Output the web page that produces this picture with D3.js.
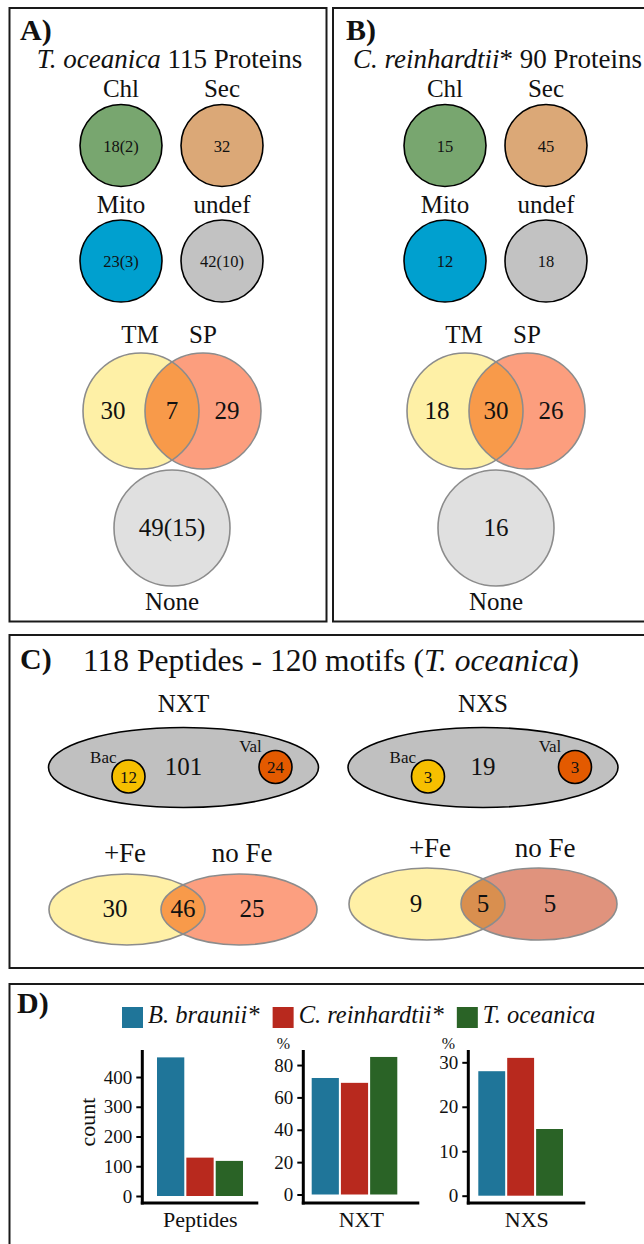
<!DOCTYPE html>
<html>
<head>
<meta charset="utf-8">
<script src="https://cdn.jsdelivr.net/npm/d3@7"></script>
<style>
  body { margin: 0; background: #fff; }
  svg { display: block; }
  text { font-family: "Liberation Serif", "Times New Roman", serif; fill: #111; }
</style>
</head>
<body>
<svg id="fig" width="644" height="1244"></svg>
<script>
// ---- data ----
var locCats = ["Chl", "Sec", "Mito", "undef"];
var locToce = ["18(2)", "32", "23(3)", "42(10)"];
var locCrei = ["15", "45", "12", "18"];
var locColors = ["#78a66f", "#dba877", "#00a0cf", "#c2c2c2"];

var topoCats = ["TM", "SP", "None"];
var topoToce = ["30", "7", "29", "49(15)"];   // TM only, both, SP only, none
var topoCrei = ["18", "30", "26", "16"];

var motifCats = ["NXT", "NXS"];
var motifAll = [101, 19];
var motifBac = [12, 3];
var motifVal = [24, 3];

var feCats = ["+Fe", "no Fe"];
var feNXT = [30, 46, 25];   // +Fe only, both, no Fe only
var feNXS = [9, 5, 5];

var species = ["B. braunii*", "C. reinhardtii*", "T. oceanica"];
var speciesColors = ["#1f7599", "#b8291e", "#2a6326"];
var barCats = ["Peptides", "NXT", "NXS"];
var peptideCount = [466, 129, 118];
var nxtPct = [72, 69, 85];
var nxsPct = [28, 31, 15];

var svg = d3.select("#fig");
svg.append("rect").attr("width", 644).attr("height", 1244).attr("fill", "#fff");

// panel frames
var frames = [[9.5, 8, 317, 613.5], [333, 8, 330, 613.5], [9.5, 635, 650, 333], [9.5, 984, 650, 300]];
svg.selectAll(".frame").data(frames).enter().append("rect")
  .attr("class", "frame")
  .attr("x", function(d) { return d[0]; })
  .attr("y", function(d) { return d[1]; })
  .attr("width", function(d) { return d[2]; })
  .attr("height", function(d) { return d[3]; })
  .attr("fill", "none").attr("stroke", "#1a1a1a").attr("stroke-width", 2);

var letters = [["A)", 20, 40], ["B)", 346, 39.5], ["C)", 20, 669], ["D)", 17, 1012.5]];
svg.selectAll(".letter").data(letters).enter().append("text")
  .attr("x", function(d) { return d[1]; })
  .attr("y", function(d) { return d[2]; })
  .attr("font-size", 30).attr("font-weight", "bold")
  .text(function(d) { return d[0]; });

// titles
var tA = svg.append("text").attr("x", 169.5).attr("y", 68).attr("text-anchor", "middle").attr("font-size", 27);
tA.append("tspan").attr("font-style", "italic").text("T. oceanica");
tA.append("tspan").text(" 115 Proteins");
var tB = svg.append("text").attr("x", 353).attr("y", 68).attr("font-size", 27);
tB.append("tspan").attr("font-style", "italic").text("C. reinhardtii");
tB.append("tspan").text("* 90 Proteins");
var tC = svg.append("text").attr("x", 83).attr("y", 671).attr("font-size", 31.5);
tC.append("tspan").text("118 Peptides - 120 motifs (");
tC.append("tspan").attr("font-style", "italic").text("T. oceanica");
tC.append("tspan").text(")");

// ---- localisation circles (A, B) ----
function drawLoc(x0, vals) {
  var cx = d3.scalePoint().domain([0, 1]).range([x0, x0 + 101]);
  var cy = d3.scalePoint().domain([0, 1]).range([145.5, 261]);
  var cells = svg.append("g").selectAll("g").data(locCats).enter().append("g")
    .attr("transform", function(d, i) { return "translate(" + cx(i % 2) + "," + cy(Math.floor(i / 2)) + ")"; });
  cells.append("circle").attr("r", 41)
    .attr("fill", function(d, i) { return locColors[i]; })
    .attr("stroke", "#000").attr("stroke-width", 1.6);
  cells.append("text").attr("y", -48.5).attr("text-anchor", "middle").attr("font-size", 25).text(function(d) { return d; });
  cells.append("text").attr("y", 6).attr("text-anchor", "middle").attr("font-size", 16.5)
    .text(function(d, i) { return vals[i]; });
}
drawLoc(121, locToce);
drawLoc(445, locCrei);

// ---- two-set venn helper (circles or ellipses) ----
var clipId = 0;
function venn2(o) {
  var g = svg.append("g");
  var id = "clip" + (clipId++);
  g.append("clipPath").attr("id", id).append("ellipse")
    .attr("cx", o.cx[0]).attr("cy", o.cy).attr("rx", o.rx).attr("ry", o.ry);
  o.cx.forEach(function(c, i) {
    g.append("ellipse").attr("cx", c).attr("cy", o.cy).attr("rx", o.rx).attr("ry", o.ry).attr("fill", o.fill[i]);
  });
  g.append("ellipse").attr("cx", o.cx[1]).attr("cy", o.cy).attr("rx", o.rx).attr("ry", o.ry)
    .attr("fill", o.fill[2]).attr("clip-path", "url(#" + id + ")");
  o.cx.forEach(function(c) {
    g.append("ellipse").attr("cx", c).attr("cy", o.cy).attr("rx", o.rx).attr("ry", o.ry)
      .attr("fill", "none").attr("stroke", "#8c8c8c").attr("stroke-width", 1.6);
  });
  g.selectAll(".lab").data(o.labels).enter().append("text")
    .attr("x", function(d, i) { return o.labelX[i]; })
    .attr("y", o.labelY).attr("text-anchor", "middle").attr("font-size", o.labelSize)
    .text(function(d) { return d; });
  g.selectAll(".num").data(o.vals).enter().append("text")
    .attr("x", function(d, i) { return o.numX[i]; })
    .attr("y", o.numY).attr("text-anchor", "middle").attr("font-size", 25)
    .text(function(d) { return d; });
}

function drawTopo(xm, vals) {
  var cL = xm - 31, cR = xm + 31;
  venn2({ cx: [cL, cR], cy: 411, rx: 58, ry: 58,
    fill: ["#fef0a6", "#fc9e7e", "#f89a4a"],
    labels: topoCats.slice(0, 2), labelX: [cL - 1, cR], labelY: 343, labelSize: 25,
    vals: vals.slice(0, 3), numX: [cL - 28, xm, cR + 24], numY: 419 });
  var g = svg.append("g");
  g.append("circle").attr("cx", xm).attr("cy", 528).attr("r", 58)
    .attr("fill", "#e0e0e0").attr("stroke", "#8c8c8c").attr("stroke-width", 1.6);
  g.append("text").attr("x", xm).attr("y", 536).attr("text-anchor", "middle").attr("font-size", 25).text(vals[3]);
  g.append("text").attr("x", xm).attr("y", 610).attr("text-anchor", "middle").attr("font-size", 25).text(topoCats[2]);
}
drawTopo(172, topoToce);
drawTopo(496, topoCrei);

// ---- motif ellipses (C) ----
var motifX = d3.scalePoint().domain(motifCats).range([183.5, 483]);
motifCats.forEach(function(m, i) {
  var cx = motifX(m), g = svg.append("g");
  g.append("text").attr("x", cx).attr("y", 712).attr("text-anchor", "middle").attr("font-size", 25).text(m);
  g.append("ellipse").attr("cx", cx).attr("cy", 767.5).attr("rx", 135).attr("ry", 40)
    .attr("fill", "#c0c0c0").attr("stroke", "#000").attr("stroke-width", 1.6);
  g.append("text").attr("x", cx).attr("y", 775).attr("text-anchor", "middle").attr("font-size", 25).text(motifAll[i]);
  g.append("circle").attr("cx", cx - 55).attr("cy", 776.5).attr("r", 16.5)
    .attr("fill", "#f6bf00").attr("stroke", "#000").attr("stroke-width", 1.6);
  g.append("text").attr("x", cx - 55).attr("y", 782.5).attr("text-anchor", "middle").attr("font-size", 17).text(motifBac[i]);
  g.append("text").attr("x", cx - 67).attr("y", 763).attr("text-anchor", "end").attr("font-size", 17).text("Bac");
  g.append("circle").attr("cx", cx + 92).attr("cy", 767).attr("r", 16.5)
    .attr("fill", "#e35a00").attr("stroke", "#000").attr("stroke-width", 1.6);
  g.append("text").attr("x", cx + 92).attr("y", 773).attr("text-anchor", "middle").attr("font-size", 17).text(motifVal[i]);
  g.append("text").attr("x", cx + 67).attr("y", 752).attr("text-anchor", "middle").attr("font-size", 17).text("Val");
});

// ---- iron venns (C) ----
venn2({ cx: [127, 239], cy: 909.5, rx: 78, ry: 35.5,
  fill: ["#fff0a6", "#fc9f80", "#f89a4a"],
  labels: feCats, labelX: [125, 242], labelY: 862, labelSize: 27,
  vals: feNXT, numX: [115, 183, 252], numY: 917 });
venn2({ cx: [427, 539], cy: 904, rx: 78, ry: 36,
  fill: ["#fff0a6", "#e0937d", "#d98f4f"],
  labels: feCats, labelX: [430, 545], labelY: 857, labelSize: 27,
  vals: feNXS, numX: [416, 483, 550], numY: 912 });

// ---- legend (D) ----
var leg = svg.append("g");
var lx = 122;
species.forEach(function(s, i) {
  leg.append("rect").attr("x", lx).attr("y", 1007).attr("width", 21).attr("height", 21).attr("fill", speciesColors[i]);
  var t = leg.append("text").attr("x", lx + 26).attr("y", 1023).attr("font-size", 24.5).attr("font-style", "italic").text(s);
  lx += 26 + t.node().getComputedTextLength() + 13;
});

// ---- bar charts (D) ----
var barPanels = [
  { cat: "Peptides", vals: peptideCount, ax: 142.3, aw: 116, bars: [157, 243], zero: 1196, top: 490.8, ticks: [0, 100, 200, 300, 400], ylab: "count" },
  { cat: "NXT", vals: nxtPct, ax: 303.3, aw: 116, bars: [311.7, 397.3], zero: 1194.5, top: 89.3, ticks: [0, 20, 40, 60, 80], ylab: "%" },
  { cat: "NXS", vals: nxsPct, ax: 468.3, aw: 117, bars: [478.3, 563], zero: 1195.7, top: 32.77, ticks: [0, 10, 20, 30], ylab: "%" }
];
barPanels.forEach(function(p) {
  var g = svg.append("g");
  var x = d3.scaleBand().domain(species).range(p.bars).paddingInner(0.07);
  var y = d3.scaleLinear().domain([0, p.top]).range([p.zero, 1050]);
  g.selectAll(".bar").data(p.vals).enter().append("rect")
    .attr("x", function(d, i) { return x(species[i]); })
    .attr("y", function(d) { return y(d); })
    .attr("width", x.bandwidth())
    .attr("height", function(d) { return y(0) - y(d); })
    .attr("fill", function(d, i) { return speciesColors[i]; });
  var ax = g.append("g").attr("transform", "translate(" + p.ax + ",0)")
    .call(d3.axisLeft(y).tickValues(p.ticks).tickSize(6).tickPadding(4));
  ax.select(".domain").remove();
  ax.selectAll(".tick line").attr("stroke", "#000").attr("stroke-width", 2);
  ax.selectAll(".tick text").attr("font-size", 19).attr("font-family", "Liberation Serif, Times New Roman, serif").attr("fill", "#1a1a1a");
  g.append("line").attr("x1", p.ax).attr("x2", p.ax).attr("y1", 1050).attr("y2", 1204.5)
    .attr("stroke", "#000").attr("stroke-width", 3);
  g.append("line").attr("x1", p.ax - 1.5).attr("x2", p.ax + p.aw).attr("y1", 1203).attr("y2", 1203)
    .attr("stroke", "#000").attr("stroke-width", 3);
  g.append("text").attr("x", p.ax + p.aw / 2).attr("y", 1227).attr("text-anchor", "middle").attr("font-size", 22).text(p.cat);
  if (p.ylab === "count") {
    g.append("text").attr("transform", "translate(95,1122) rotate(-90)").attr("text-anchor", "middle").attr("font-size", 22).text(p.ylab);
  } else {
    g.append("text").attr("x", p.ax - 20).attr("y", 1049).attr("text-anchor", "middle").attr("font-size", 16).text(p.ylab);
  }
});
</script>
</body>
</html>
